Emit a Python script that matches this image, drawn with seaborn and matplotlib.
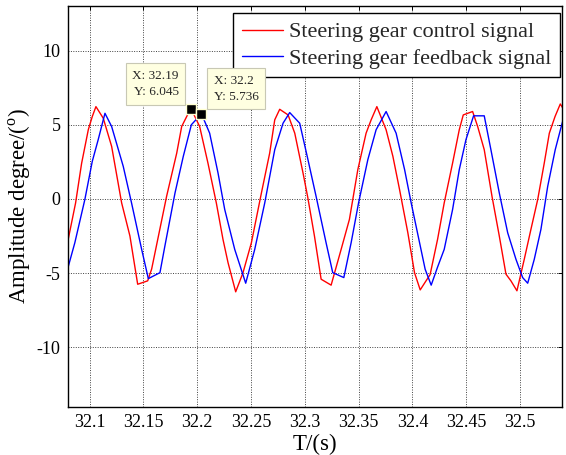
import matplotlib
matplotlib.use("Agg")
import matplotlib.pyplot as plt
import seaborn as sns
import pandas as pd

# ---- data ----
t_ctrl = [32.0795, 32.0870, 32.0926, 32.0988, 32.1025, 32.1059, 32.1127, 32.1205,
          32.1298, 32.1375, 32.1447, 32.1540, 32.1577, 32.1640, 32.1716, 32.1810,
          32.1856, 32.1910, 32.1946, 32.2023, 32.2100, 32.2178, 32.2240, 32.2287,
          32.2358, 32.2426, 32.2504, 32.2597, 32.2674, 32.2721, 32.2767, 32.2845,
          32.2907, 32.2984, 32.3028, 32.3090, 32.3152, 32.3245, 32.3338, 32.3415,
          32.3493, 32.3570, 32.3617, 32.3670, 32.3756, 32.3819, 32.3881, 32.3958,
          32.4020, 32.4073, 32.4120, 32.4165, 32.4235, 32.4296, 32.4374, 32.4436,
          32.4473, 32.4560, 32.4607, 32.4668, 32.4740, 32.4808, 32.4870, 32.4916,
          32.4972, 32.5040, 32.5102, 32.5165, 32.5226, 32.5273, 32.5326, 32.5375,
          32.5400]
y_ctrl = [-2.95, -0.27, 2.40, 4.66, 5.55, 6.22, 5.44, 3.54,
          -0.27, -2.50, -5.75, -5.52, -4.72, -2.50, 0.18, 3.09,
          4.88, 5.66, 6.045, 4.88, 2.42, -0.27, -2.73, -4.30,
          -6.26, -4.97, -2.95, 0.40, 3.09, 5.33, 6.04, 5.66,
          4.43, 1.74, 0.10, -2.50, -5.41, -5.81, -3.40, -1.38,
          1.97, 4.43, 5.33, 6.22, 4.66, 2.87, 0.63, -2.28,
          -4.97, -6.13, -5.60, -5.10, -2.70, -0.27, 2.42, 4.66,
          5.66, 5.89, 4.88, 3.32, 0.18, -2.50, -5.07, -5.52,
          -6.19, -4.07, -2.05, -0.04, 2.42, 4.43, 5.55, 6.40,
          6.10]

t_fb = [32.0795, 32.0863, 32.0956, 32.1025, 32.1080, 32.1143, 32.1205, 32.1313,
        32.1390, 32.1484, 32.1546, 32.1654, 32.1700, 32.1794, 32.1871, 32.1946,
        32.2040, 32.2116, 32.2194, 32.2256, 32.2349, 32.2451, 32.2535, 32.2628,
        32.2721, 32.2798, 32.2860, 32.2953, 32.3031, 32.3105, 32.3198, 32.3260,
        32.3363, 32.3431, 32.3500, 32.3586, 32.3663, 32.3756, 32.3849, 32.3928,
        32.3989, 32.4067, 32.4119, 32.4175, 32.4234, 32.4296, 32.4374, 32.4436,
        32.4498, 32.4569, 32.4668, 32.4730, 32.4808, 32.4886, 32.4963, 32.5025,
        32.5072, 32.5133, 32.5195, 32.5258, 32.5328, 32.5388, 32.5400]
y_fb = [-4.74, -2.95, -0.04, 2.53, 3.99, 5.77, 4.88, 2.19,
        -0.27, -3.40, -5.37, -4.97, -3.17, 0.40, 2.87, 5.00,
        5.736, 4.43, 1.74, -0.71, -3.40, -5.68, -3.40, -0.27,
        3.32, 5.10, 5.82, 5.10, 2.60, 0.18, -2.95, -4.97,
        -5.30, -2.95, -0.27, 2.64, 4.66, 5.89, 4.43, 1.97,
        -0.27, -2.95, -4.74, -5.81, -4.60, -3.40, -0.71, 1.97,
        3.99, 5.60, 5.60, 3.32, 0.40, -2.28, -4.07, -5.30,
        -5.68, -4.07, -2.05, 0.85, 3.32, 4.99, 5.30]

tip_t = [32.1946, 32.2040]
tip_y = [6.045, 5.736]

series_names = ["Steering gear control signal", "Steering gear feedback signal"]
x_ticks = [32.1, 32.15, 32.2, 32.25, 32.3, 32.35, 32.4, 32.45, 32.5]
x_tick_labels = ["32.1", "32.15", "32.2", "32.25", "32.3", "32.35", "32.4", "32.45", "32.5"]
y_ticks = [-10, -5, 0, 5, 10]
y_tick_labels = ["-10", "-5", "0", "5", "10"]

# ---- style ----
sns.set_theme(style="white")
plt.rcParams["font.family"] = ["Liberation Serif", "DejaVu Serif"]
plt.rcParams["mathtext.fontset"] = "custom"
plt.rcParams["mathtext.rm"] = "Liberation Serif"
plt.rcParams["axes.unicode_minus"] = False

df = pd.concat([
    pd.DataFrame({"t": t_ctrl, "y": y_ctrl, "s": series_names[0]}),
    pd.DataFrame({"t": t_fb, "y": y_fb, "s": series_names[1]}),
], ignore_index=True)

fig = plt.figure(figsize=(5.66, 4.55), dpi=100)
ax = fig.add_axes([0.1193, 0.1062, 0.8731, 0.8806])

sns.lineplot(data=df, x="t", y="y", hue="s", palette=["#ff0000", "#0000ff"],
             estimator=None, sort=False, linewidth=1.0, ax=ax)

ax.set_xlim(32.0795, 32.5388)
ax.set_ylim(-14, 13)
ax.set_xticks(x_ticks)
ax.set_xticklabels(x_tick_labels)
ax.set_yticks(y_ticks)
ax.set_yticklabels(y_tick_labels)

ax.grid(True, color="#404040", linestyle=(0, (1, 1.5)), linewidth=0.7)
ax.tick_params(direction="in", length=3, width=0.7, top=True, right=True,
               labelsize=13, colors="black", pad=5)
for sp in ax.spines.values():
    sp.set_visible(True)
    sp.set_color("black")
    sp.set_linewidth(1.0)

ax.set_xlabel("T/(s)", fontsize=16.5, color="black")
ax.set_ylabel(r"Amplitude degree/($^{\rm o}$)", fontsize=16.5, color="black")
ax.xaxis.set_label_coords(0.5, -0.068)
ax.yaxis.set_label_coords(-0.070, 0.5)

# data tips
ax.plot(tip_t, tip_y, linestyle="none", marker="s", markersize=7,
        markerfacecolor="black", markeredgecolor="#ffffd0", markeredgewidth=1.0, zorder=5)
bbox = dict(boxstyle="square,pad=0.5", facecolor="#ffffe1", edgecolor="#c8c8b4", linewidth=0.8)
ax.annotate(f"X: {tip_t[0]:.4g}\nY: {tip_y[0]:.4g}", xy=(tip_t[0], tip_y[0]),
            xytext=(-9, 8), textcoords="offset points", ha="right", va="bottom",
            fontsize=9.5, linespacing=1.45, bbox=bbox, zorder=6)
ax.annotate(f"X: {tip_t[1]:.4g}\nY: {tip_y[1]:.4g}", xy=(tip_t[1], tip_y[1]),
            xytext=(9, 8), textcoords="offset points", ha="left", va="bottom",
            fontsize=9.5, linespacing=1.45, bbox=bbox, zorder=6)

leg = ax.legend(loc="upper right", bbox_to_anchor=(0.9966, 0.9825), borderaxespad=0,
                fontsize=16, frameon=True, fancybox=False, framealpha=1,
                edgecolor="black", handlelength=1.85, handletextpad=0.25,
                labelspacing=0.25, borderpad=0.4, title=None)
leg.get_frame().set_linewidth(1.0)

fig.savefig("out.png", dpi=100)
